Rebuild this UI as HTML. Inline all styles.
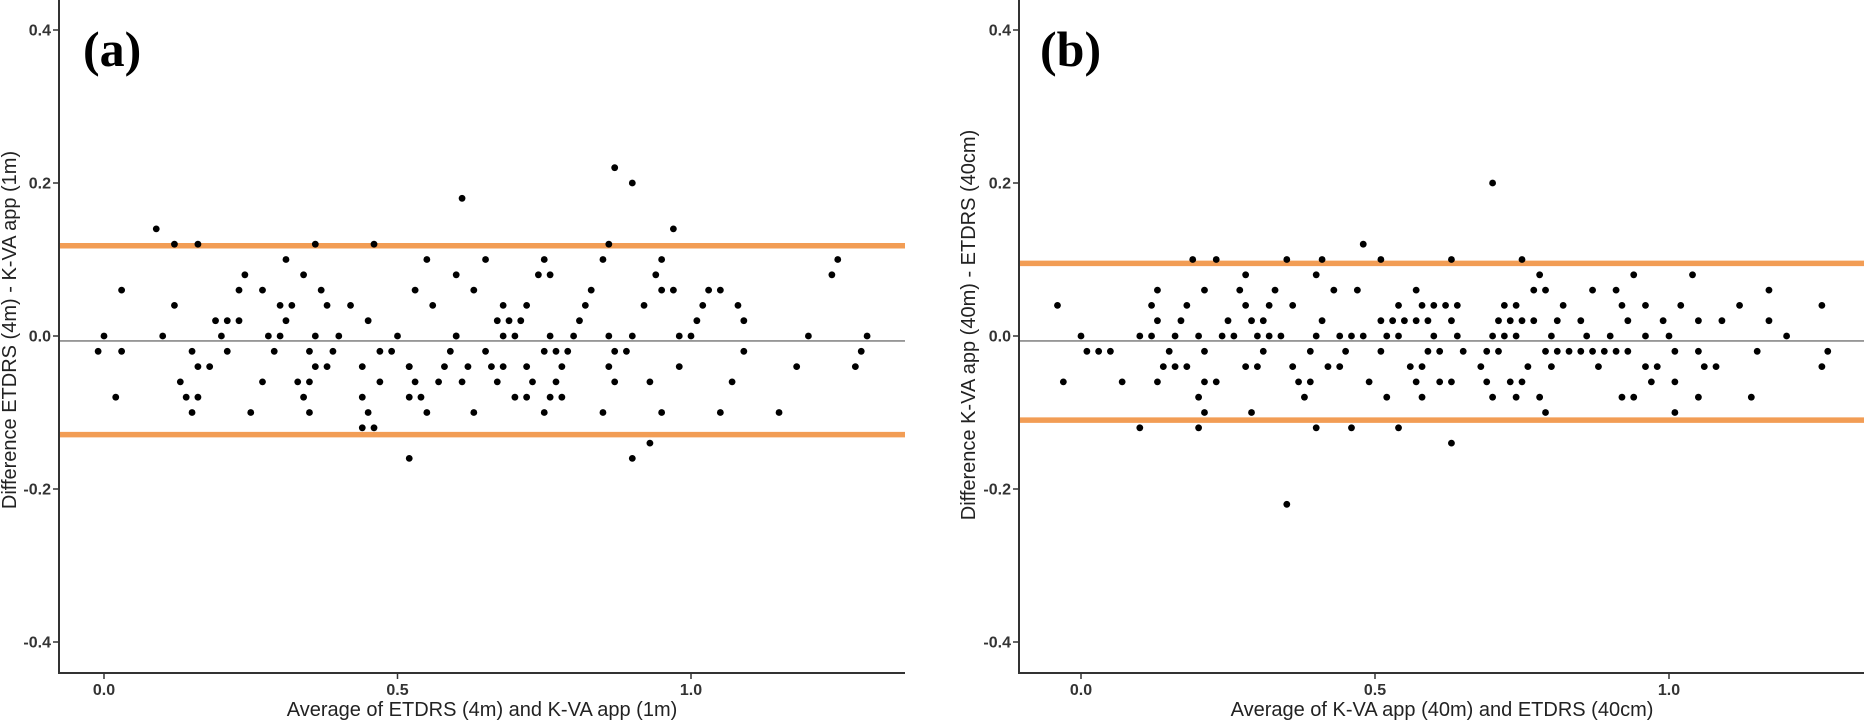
<!DOCTYPE html>
<html><head><meta charset="utf-8"><style>
html,body{margin:0;padding:0;background:#fff;}
svg{display:block;font-family:"Liberation Sans",sans-serif;}
</style></head><body>
<svg id="chart" width="1864" height="722" viewBox="0 0 1864 722"></svg>
<script>
// Panel (a) data
const aX = [0.089,0.12,0.16,0.36,0.46,0.31,0.24,0.34,0.03,0.23,0.27,0.37,0.12,0.30,0.32,0.38,0.42,0.19,0.21,0.23,0.31,0.45,0.0,0.10,0.20,0.28,0.30,0.36,0.40,0.50,-0.01,0.03,0.15,0.21,0.29,0.35,0.39,0.47,0.49,0.16,0.18,0.36,0.38,0.44,0.52,0.13,0.27,0.33,0.35,0.47,0.02,0.14,0.16,0.34,0.44,0.52,0.15,0.25,0.35,0.45,0.55,0.44,0.46,0.52,0.54,0.57,0.61,0.52,0.58,0.62,0.59,0.60,
0.87,0.90,0.61,0.97,0.86,0.55,0.65,0.75,0.85,0.95,0.60,0.74,0.76,0.94,0.53,0.63,0.83,0.95,0.97,1.03,1.05,0.56,0.68,0.72,0.82,0.92,1.02,1.08,0.67,0.69,0.71,0.81,1.01,1.09,0.60,0.68,0.70,0.76,0.80,0.86,0.90,0.98,1.00,0.65,0.75,0.77,0.79,0.87,0.89,1.09,0.66,0.68,0.72,0.78,0.86,0.98,0.53,0.67,0.73,0.77,0.87,0.93,1.07,0.70,0.72,0.76,0.78,1.20,1.30,1.29,1.18,1.28,0.63,0.75,0.85,0.95,1.05,1.15,0.93,0.90,1.25,1.24];
const aY = [0.14,0.12,0.12,0.12,0.12,0.10,0.08,0.08,0.06,0.06,0.06,0.06,0.04,0.04,0.04,0.04,0.04,0.02,0.02,0.02,0.02,0.02,0,0,0,0,0,0,0,0,-0.02,-0.02,-0.02,-0.02,-0.02,-0.02,-0.02,-0.02,-0.02,-0.04,-0.04,-0.04,-0.04,-0.04,-0.04,-0.06,-0.06,-0.06,-0.06,-0.06,-0.08,-0.08,-0.08,-0.08,-0.08,-0.08,-0.10,-0.10,-0.10,-0.10,-0.10,-0.12,-0.12,-0.16,-0.08,-0.06,-0.06,-0.04,-0.04,-0.04,-0.02,0,
0.22,0.20,0.18,0.14,0.12,0.10,0.10,0.10,0.10,0.10,0.08,0.08,0.08,0.08,0.06,0.06,0.06,0.06,0.06,0.06,0.06,0.04,0.04,0.04,0.04,0.04,0.04,0.04,0.02,0.02,0.02,0.02,0.02,0.02,0,0,0,0,0,0,0,0,0,-0.02,-0.02,-0.02,-0.02,-0.02,-0.02,-0.02,-0.04,-0.04,-0.04,-0.04,-0.04,-0.04,-0.06,-0.06,-0.06,-0.06,-0.06,-0.06,-0.06,-0.08,-0.08,-0.08,-0.08,0,0,-0.02,-0.04,-0.04,-0.10,-0.10,-0.10,-0.10,-0.10,-0.10,-0.14,-0.16,0.10,0.08];
const aMean = -0.0065, aUpper = 0.118, aLower = -0.129;

// Panel (b) data
const bX = [-0.04,0.0,0.01,0.03,0.05,-0.03,0.07,0.19,0.23,0.13,0.21,0.12,0.18,0.13,0.17,0.10,0.12,0.16,0.20,0.15,0.21,0.14,0.16,0.18,0.13,0.21,0.23,0.20,0.21,0.10,0.20,
0.24,0.26,0.30,0.32,0.34,0.40,0.44,0.46,0.48,0.52,0.31,0.39,0.45,0.51,0.28,0.30,0.36,0.42,0.44,0.37,0.39,0.49,0.38,0.52,0.29,0.40,0.46,0.54,0.35,
0.54,0.60,0.64,0.70,0.72,0.74,0.80,0.86,0.90,0.96,1.00,1.20,0.59,0.61,0.65,0.69,0.71,0.79,0.81,0.83,0.85,0.87,0.89,0.91,0.93,1.01,1.05,1.15,1.27,0.56,0.58,0.68,0.76,0.80,0.88,0.96,0.98,1.06,1.08,1.26,0.57,0.61,0.63,0.69,0.73,0.75,0.97,1.01,0.58,0.70,0.74,0.78,0.92,0.94,1.05,1.14,0.79,1.01,0.63,
0.70,0.48,0.35,0.41,0.51,0.63,0.75,0.28,0.40,0.78,0.27,0.33,0.43,0.47,0.57,0.77,0.79,0.28,0.32,0.36,0.54,0.58,0.60,0.62,0.64,0.72,0.74,0.82,0.25,0.29,0.31,0.41,0.51,0.53,0.55,0.57,0.59,0.63,0.71,0.73,0.75,0.77,0.81,
0.94,1.04,0.87,0.91,1.17,0.92,0.96,1.02,1.12,1.26,0.85,0.93,0.99,1.05,1.09,1.17];
const bY = [0.04,0,-0.02,-0.02,-0.02,-0.06,-0.06,0.10,0.10,0.06,0.06,0.04,0.04,0.02,0.02,0,0,0,0,-0.02,-0.02,-0.04,-0.04,-0.04,-0.06,-0.06,-0.06,-0.08,-0.10,-0.12,-0.12,
0,0,0,0,0,0,0,0,0,0,-0.02,-0.02,-0.02,-0.02,-0.04,-0.04,-0.04,-0.04,-0.04,-0.06,-0.06,-0.06,-0.08,-0.08,-0.10,-0.12,-0.12,-0.12,-0.22,
0,0,0,0,0,0,0,0,0,0,0,0,-0.02,-0.02,-0.02,-0.02,-0.02,-0.02,-0.02,-0.02,-0.02,-0.02,-0.02,-0.02,-0.02,-0.02,-0.02,-0.02,-0.02,-0.04,-0.04,-0.04,-0.04,-0.04,-0.04,-0.04,-0.04,-0.04,-0.04,-0.04,-0.06,-0.06,-0.06,-0.06,-0.06,-0.06,-0.06,-0.06,-0.08,-0.08,-0.08,-0.08,-0.08,-0.08,-0.08,-0.08,-0.10,-0.10,-0.14,
0.20,0.12,0.10,0.10,0.10,0.10,0.10,0.08,0.08,0.08,0.06,0.06,0.06,0.06,0.06,0.06,0.06,0.04,0.04,0.04,0.04,0.04,0.04,0.04,0.04,0.04,0.04,0.04,0.02,0.02,0.02,0.02,0.02,0.02,0.02,0.02,0.02,0.02,0.02,0.02,0.02,0.02,0.02,
0.08,0.08,0.06,0.06,0.06,0.04,0.04,0.04,0.04,0.04,0.02,0.02,0.02,0.02,0.02,0.02];
const bMean = -0.0065, bUpper = 0.095, bLower = -0.11;

const xTicks = [0.0, 0.5, 1.0];
const xTickLabels = ["0.0","0.5","1.0"];
const yTicks = [0.4, 0.2, 0.0, -0.2, -0.4];
const yTickLabels = ["0.4","0.2","0.0","-0.2","-0.4"];

const NS = "http://www.w3.org/2000/svg";
const svg = document.getElementById('chart');
function mk(tag, attrs, parent){
  const e = document.createElementNS(NS, tag);
  for (const k in attrs) e.setAttribute(k, attrs[k]);
  (parent||svg).appendChild(e);
  return e;
}

function panel(cfg){
  const g = mk('g', {});
  
  
  const sx = v => cfg.x0 + v * cfg.xs;
  const sy = v => 336 - v * 765;
  // axes
  const ax = mk('path', {d:`M${cfg.left} 0 V673 H${cfg.right}`, fill:'none', stroke:'#333', 'stroke-width':2}, g);
  
  
  yTicks.forEach((t,i)=>{
    const y = sy(t);
    const tk = mk('line', {x1:cfg.left-6, x2:cfg.left, y1:y, y2:y, stroke:'#333','stroke-width':1.5}, g);
    
    
    const tl = mk('text', {x:cfg.left-8, y:y+5.5, 'text-anchor':'end','font-size':16,'font-weight':'bold',fill:'#333'}, g);
    tl.textContent = yTickLabels[i];
    
    
  });
  xTicks.forEach((t,i)=>{
    const x = sx(t);
    const tk = mk('line', {x1:x, x2:x, y1:673, y2:679, stroke:'#333','stroke-width':1.5}, g);
    
    
    const tl = mk('text', {x:x, y:695, 'text-anchor':'middle','font-size':16,'font-weight':'bold',fill:'#333'}, g);
    tl.textContent = xTickLabels[i];
    
    
  });
  // reference lines
  const ml = mk('line', {x1:cfg.left+1, x2:cfg.right, y1:sy(cfg.mean), y2:sy(cfg.mean), stroke:'#888','stroke-width':1.6}, g);
  
  
  const ul = mk('line', {x1:cfg.left+1, x2:cfg.right, y1:sy(cfg.upper), y2:sy(cfg.upper), stroke:'#f29d55','stroke-width':5.5}, g);
  
  
  const ll = mk('line', {x1:cfg.left+1, x2:cfg.right, y1:sy(cfg.lower), y2:sy(cfg.lower), stroke:'#f29d55','stroke-width':5.5}, g);
  
  
  // points
  cfg.xs_.forEach((xv,i)=>{
    const c = mk('circle', {cx:sx(xv), cy:sy(cfg.ys_[i]), r:3.4, fill:'#000'}, g);
    
    
  });
  // titles
  const xt = mk('text', {x:cfg.xtX, y:716, 'text-anchor':'middle','font-size':20,fill:'#222'}, g);
  xt.textContent = cfg.xtitle;
  
  
  const yt = mk('text', {x:0, y:0, 'text-anchor':'middle','font-size':20,fill:'#222', transform:`translate(${cfg.ytX},${cfg.ytY}) rotate(-90)`}, g);
  yt.textContent = cfg.ytitle;
  
  
  const pl = mk('text', {x:cfg.labX, y:66, 'font-size':50,'font-weight':'bold','font-family':'"Liberation Serif",serif',fill:'#000'}, g);
  pl.textContent = cfg.label;
  
  
}

panel({name:'panel-a', left:59, right:905, x0:104, xs:587, mean:aMean, upper:aUpper, lower:aLower,
  xs_:aX, ys_:aY, xtitle:'Average of ETDRS (4m) and K-VA app (1m)', xtX:482,
  ytitle:'Difference ETDRS (4m) - K-VA app (1m)', ytX:16, ytY:330, label:'(a)', labX:83});
panel({name:'panel-b', left:1019, right:1864, x0:1081, xs:588, mean:bMean, upper:bUpper, lower:bLower,
  xs_:bX, ys_:bY, xtitle:'Average of K-VA app (40m) and ETDRS (40cm)', xtX:1442,
  ytitle:'Difference K-VA app (40m) - ETDRS (40cm)', ytX:975, ytY:325, label:'(b)', labX:1040});
</script>
</body></html>
